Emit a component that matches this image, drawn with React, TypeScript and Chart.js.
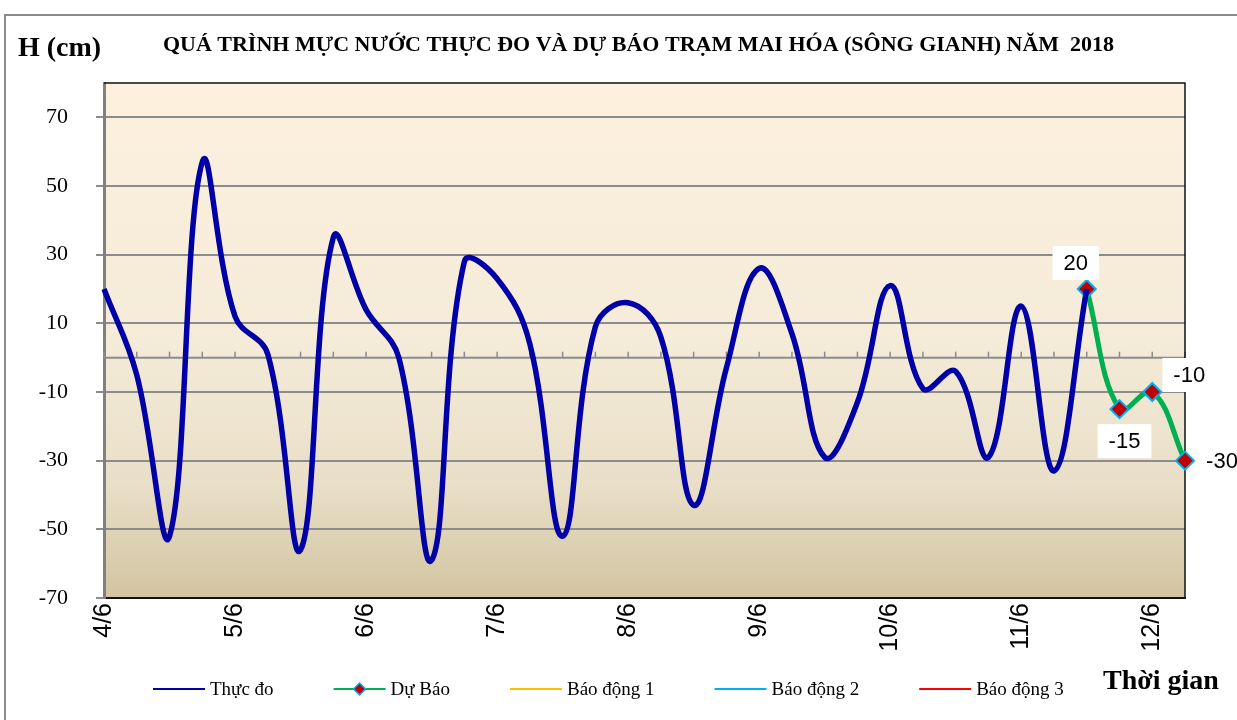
import { useEffect, useRef } from 'react';
import { Chart, registerables } from 'chart.js';

Chart.register(...registerables);

// ---- data ----
const categories = [
  '4/6', '', '', '',
  '5/6', '', '', '',
  '6/6', '', '', '',
  '7/6', '', '', '',
  '8/6', '', '', '',
  '9/6', '', '', '',
  '10/6', '', '', '',
  '11/6', '', '', '',
  '12/6', '',
];

const thucDo = [
  20, -5, -52, 57, 12, 1, -56, 35, 14, 0, -59, 28, 23, 4, -52, 9,
  16, 6, -43, -3, 26, 7, -29, -13, 21, -9, -4, -29, 15, -33, 20,
];

const duBao = [
  null, null, null, null, null, null, null, null, null, null,
  null, null, null, null, null, null, null, null, null, null,
  null, null, null, null, null, null, null, null, null, null,
  20, -15, -10, -30,
];

const yTickValues = [-70, -50, -30, -10, 10, 30, 50, 70];
const yMin = -70;
const yMax = 80;

const legendLabels = ['Thực đo', 'Dự Báo', 'Báo động 1', 'Báo động 2', 'Báo động 3'];
const legendColors = ['#0000A6', '#00B050', '#FFC000', '#00B0F0', '#FF0000'];

const titleText = 'QUÁ TRÌNH MỰC NƯỚC THỰC ĐO VÀ DỰ BÁO TRẠM MAI HÓA (SÔNG GIANH) NĂM  2018';
const yAxisTitle = 'H (cm)';
const xAxisTitle = 'Thời gian';

// label offsets (style) for forecast data labels, relative to point
const forecastLabelOffsets = [[-11, -26], [5, 32], [37, -17], [37, 0]];

const decorPlugin = {
  id: 'decor',
  beforeDraw(chart: any) {
    const { ctx, chartArea: a, width, height } = chart;
    ctx.save();
    ctx.fillStyle = '#ffffff';
    ctx.fillRect(0, 0, width, height);
    ctx.strokeStyle = '#8a8a8a';
    ctx.lineWidth = 2;
    ctx.strokeRect(5, 15, width + 20, height + 20);

    const g = ctx.createLinearGradient(0, a.top, 0, a.bottom);
    g.addColorStop(0, '#FDF1DE');
    g.addColorStop(0.5, '#F4EBD8');
    g.addColorStop(0.78, '#E9DFC8');
    g.addColorStop(1, '#D2C4A0');
    ctx.fillStyle = g;
    ctx.fillRect(a.left, a.top, a.right - a.left, a.bottom - a.top);

    ctx.fillStyle = '#000';
    ctx.textBaseline = 'alphabetic';
    ctx.font = 'bold 28px "Liberation Serif"';
    ctx.textAlign = 'left';
    ctx.fillText(yAxisTitle, 18, 56);

    ctx.font = 'bold 22px "Liberation Serif"';
    ctx.textAlign = 'center';
    ctx.fillText(titleText, (a.left + a.right) / 2 - 6, 51);

    ctx.font = 'bold 28px "Liberation Serif"';
    ctx.textAlign = 'left';
    ctx.fillText(xAxisTitle, 1103, 689);
    ctx.restore();
  },
  beforeDatasetsDraw(chart: any) {
    const { ctx, chartArea: a, scales } = chart;
    const xs = scales.x;
    const ys = scales.y;
    const y0 = ys.getPixelForValue(0);
    ctx.save();
    ctx.strokeStyle = '#8c8c8c';
    ctx.lineWidth = 2;
    ctx.beginPath();
    ctx.moveTo(a.left, y0);
    ctx.lineTo(a.right, y0);
    ctx.stroke();
    ctx.lineWidth = 1.5;
    for (let i = 0; i < categories.length; i++) {
      const x = xs.getPixelForValue(i);
      ctx.beginPath();
      ctx.moveTo(x, y0);
      ctx.lineTo(x, y0 - 6);
      ctx.stroke();
    }
    // plot frame top/right
    ctx.strokeStyle = '#111';
    ctx.lineWidth = 1.5;
    ctx.beginPath();
    ctx.moveTo(a.left, a.top);
    ctx.lineTo(a.right, a.top);
    ctx.lineTo(a.right, a.bottom);
    ctx.stroke();
    ctx.restore();
  },
  afterDatasetsDraw(chart: any) {
    const { ctx } = chart;
    const meta = chart.getDatasetMeta(1);
    ctx.save();
    ctx.font = '22px "Liberation Sans"';
    ctx.textAlign = 'center';
    ctx.textBaseline = 'middle';
    let k = 0;
    duBao.forEach((v, i) => {
      if (v === null) return;
      const el = meta.data[i];
      const off = forecastLabelOffsets[k++] || [0, -25];
      const txt = String(v);
      const cx = el.x + off[0];
      const cy = el.y + off[1];
      const w = ctx.measureText(txt).width + 22;
      const h = 34;
      ctx.fillStyle = '#ffffff';
      ctx.fillRect(cx - w / 2, cy - h / 2, w, h);
      ctx.fillStyle = '#000';
      ctx.fillText(txt, cx, cy + 1);
    });
    ctx.restore();
  },
  afterDraw(chart: any) {
    const { ctx } = chart;
    ctx.save();
    ctx.font = '19px "Liberation Serif"';
    ctx.textBaseline = 'alphabetic';
    ctx.textAlign = 'left';
    let x = 153;
    const y = 689;
    legendLabels.forEach((lab, i) => {
      ctx.strokeStyle = legendColors[i];
      ctx.lineWidth = 2;
      ctx.beginPath();
      ctx.moveTo(x, y);
      ctx.lineTo(x + 52, y);
      ctx.stroke();
      if (i === 1) {
        const mx = x + 26;
        ctx.fillStyle = '#C00000';
        ctx.strokeStyle = '#00B0F0';
        ctx.lineWidth = 1.5;
        ctx.beginPath();
        ctx.moveTo(mx, y - 6);
        ctx.lineTo(mx + 6, y);
        ctx.lineTo(mx, y + 6);
        ctx.lineTo(mx - 6, y);
        ctx.closePath();
        ctx.fill();
        ctx.stroke();
      }
      ctx.fillStyle = '#000';
      ctx.fillText(lab, x + 57, y + 6);
      x += 52 + 5 + ctx.measureText(lab).width + 60;
    });
    ctx.restore();
  },
};

export default function App() {
  const ref = useRef<HTMLCanvasElement | null>(null);
  useEffect(() => {
    document.body.style.margin = '0';
    const canvas = ref.current;
    if (!canvas) return;
    const chart = new Chart(canvas, {
      type: 'line',
      data: {
        labels: categories,
        datasets: [
          {
            label: 'Thực đo',
            data: thucDo,
            borderColor: '#0000A6',
            backgroundColor: '#0000A6',
            borderWidth: 5.5,
            pointRadius: 0,
            tension: 0.4,
            fill: false,
          },
          {
            label: 'Dự Báo',
            data: duBao as any,
            borderColor: '#00B050',
            backgroundColor: '#00B050',
            borderWidth: 5,
            pointStyle: 'rectRot',
            pointRadius: 9,
            pointBackgroundColor: '#C00000',
            pointBorderColor: '#00B0F0',
            pointBorderWidth: 2,
            tension: 0.4,
            fill: false,
            clip: false as any,
          },
        ],
      },
      options: {
        animation: false,
        responsive: false,
        layout: { padding: { left: 39, top: 83, right: 52, bottom: 52 } },
        plugins: {
          legend: { display: false },
          title: { display: false },
          tooltip: { enabled: false },
        },
        scales: {
          x: {
            type: 'category',
            grid: { display: false, drawTicks: false },
            border: { display: true, color: '#111', width: 2 },
            ticks: {
              autoSkip: false,
              maxRotation: 90,
              minRotation: 90,
              padding: 5,
              color: '#000',
              font: { family: 'Liberation Sans', size: 25 },
            },
            afterFit(scale: any) {
              scale.height = 70;
            },
          },
          y: {
            min: yMin,
            max: yMax,
            afterBuildTicks(scale: any) {
              scale.ticks = yTickValues.map((v) => ({ value: v }));
            },
            grid: {
              color: '#8c8c8c',
              lineWidth: 2,
              drawTicks: true,
              tickLength: 8,
            },
            border: { display: true, color: '#808080', width: 3 },
            ticks: {
              padding: 28,
              color: '#000',
              font: { family: 'Liberation Serif', size: 22 },
            },
            afterFit(scale: any) {
              scale.width = 65;
            },
          },
        },
      },
      plugins: [decorPlugin],
    });
    return () => chart.destroy();
  }, []);
  return (
    <div style={{ width: 1237, height: 720 }}>
      <canvas ref={ref} width={1237} height={720} />
    </div>
  );
}
